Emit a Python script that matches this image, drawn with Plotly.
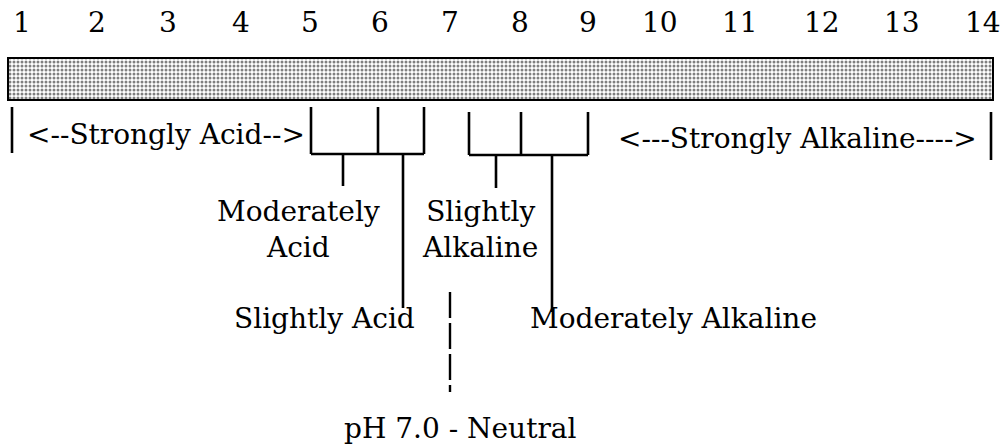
import plotly.graph_objects as go

# ---- data (text content of the pH scale diagram) ----
ph_values = ["1", "2", "3", "4", "5", "6", "7", "8", "9", "10", "11", "12", "13", "14"]
range_labels = ["<--Strongly Acid-->", "<---Strongly Alkaline---->"]
class_labels = ["Moderately<br>Acid", "Slightly<br>Alkaline", "Slightly Acid", "Moderately Alkaline"]
neutral_label = "pH 7.0 - Neutral"

# ---- layout positions (schematic coordinates, page-pixel-like) ----
ph_x = [22, 97, 168, 241, 310, 380, 450, 520, 588, 660, 740, 822, 902, 983]
ph_y = 22
bar_left, bar_right, bar_top, bar_bottom = 8, 993, 58, 100

FONT = "DejaVu Serif"
FS = 28
LW = 2.6

fig = go.Figure()

# patterned (dotted) pH bar
fig.add_trace(go.Bar(
    x=[bar_right - bar_left], base=[bar_left], y=[(bar_top + bar_bottom) / 2],
    width=[bar_bottom - bar_top], orientation="h",
    marker=dict(color="white",
                line=dict(color="black", width=2),
                pattern=dict(shape=".", fgcolor="black", bgcolor="white",
                             size=4, solidity=0.45)),
    hoverinfo="skip", showlegend=False))

shapes = []

def vline(x, y0, y1, dash=None, width=LW):
    d = dict(type="line", xref="x", yref="y", x0=x, x1=x, y0=y0, y1=y1,
             line=dict(color="black", width=width))
    if dash:
        d["line"]["dash"] = dash
    shapes.append(d)

def hline(y, x0, x1, width=LW):
    shapes.append(dict(type="line", xref="x", yref="y", x0=x0, x1=x1, y0=y, y1=y,
                       line=dict(color="black", width=width)))

# strongly acid / alkaline end markers
vline(12, 107, 153)
vline(991, 112, 160)

# acid bracket
for xv in (311, 378, 424):
    vline(xv, 107, 154)
hline(154, 311, 424)
vline(343, 154, 186)   # Moderately Acid
vline(403, 154, 308)   # Slightly Acid

# alkaline bracket
for xv in (469, 521, 588):
    vline(xv, 112, 155)
hline(155, 469, 588)
vline(496, 155, 188)   # Slightly Alkaline
vline(552, 155, 312)   # Moderately Alkaline

# neutral dashed line
vline(450, 292, 392, dash="26px,5px", width=2.4)

annotations = []

def txt(x, y, t, xanchor="center"):
    annotations.append(dict(x=x, y=y, xref="x", yref="y", text=t, showarrow=False,
                            xanchor=xanchor, yanchor="middle",
                            font=dict(family=FONT, size=FS, color="black")))

for xv, lab in zip(ph_x, ph_values):
    txt(xv, ph_y, lab)

txt(166, 134, range_labels[0])
txt(797, 138, range_labels[1])
txt(298, 229, class_labels[0])
txt(480, 229, class_labels[1])
txt(324, 318, class_labels[2])
txt(673, 318, class_labels[3])
txt(460, 428, neutral_label)

fig.update_layout(
    width=1000, height=448,
    margin=dict(l=0, r=0, t=0, b=0),
    paper_bgcolor="white", plot_bgcolor="white",
    xaxis=dict(range=[0, 1000], visible=False, fixedrange=True),
    yaxis=dict(range=[448, 0], visible=False, fixedrange=True),
    shapes=shapes, annotations=annotations, showlegend=False,
    bargap=0,
)

fig.write_html("out.html",
               config={"displayModeBar": False, "staticPlot": True},
               post_script="document.body.style.margin='0px';document.body.style.overflow='hidden';")
